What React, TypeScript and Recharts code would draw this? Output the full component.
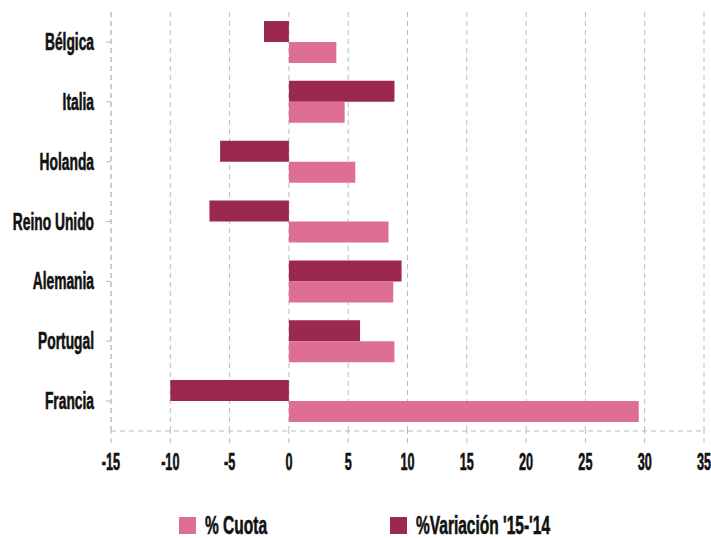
import React from "react";
import { BarChart, Bar, XAxis, YAxis, CartesianGrid, Legend } from "recharts";

const countries = ["Bélgica", "Italia", "Holanda", "Reino Unido", "Alemania", "Portugal", "Francia"];
const cuota = [4.0, 4.7, 5.6, 8.4, 8.8, 8.9, 29.5];
const variacion = [-2.1, 8.9, -5.8, -6.7, 9.5, 6.0, -10.0];
const xTicks = [-15, -10, -5, 0, 5, 10, 15, 20, 25, 30, 35];
const legendLabels = ["% Cuota", "%Variación '15-'14"];

const PINK = "#DD7092";
const DARK = "#9B294D";
const FONT = "'Liberation Sans', Arial, sans-serif";

const data = countries.map((c, i) => ({ name: c, cuota: cuota[i], variacion: variacion[i] }));

const YTick = (props: any) => {
  const { x, y, payload } = props;
  return (
    <text
      transform={`translate(${x - 10},${y + 8}) scale(0.6,1)`}
      x={0}
      y={0}
      textAnchor="end"
      fontFamily={FONT}
      fontWeight="bold"
      fontSize={23}
      fill="#111"
      stroke="#111"
      strokeWidth={0.6}
    >
      {payload.value}
    </text>
  );
};

const XTick = (props: any) => {
  const { x, y, payload } = props;
  return (
    <text
      transform={`translate(${x},${y + 25}) scale(0.55,1)`}
      x={0}
      y={0}
      textAnchor="middle"
      fontFamily={FONT}
      fontWeight="bold"
      fontSize={23}
      fill="#111"
      stroke="#111"
      strokeWidth={0.6}
    >
      {payload.value}
    </text>
  );
};

const LegendContent = () => {
  const items = [
    { label: legendLabels[0], color: PINK, left: 179 },
    { label: legendLabels[1], color: DARK, left: 390 },
  ];
  return (
    <div style={{ position: "relative", height: 57, width: 711 }}>
      {items.map((it) => (
        <div key={it.label} style={{ position: "absolute", left: it.left, top: 36, height: 17 }}>
          <div style={{ position: "absolute", left: 0, top: 0, width: 17, height: 17, background: it.color }} />
          <span
            style={{
              position: "absolute",
              left: 26,
              top: -6,
              whiteSpace: "nowrap",
              fontFamily: FONT,
              fontWeight: "bold",
              fontSize: 25,
              lineHeight: "28px",
              color: "#111",
              WebkitTextStroke: "0.6px #111",
              transform: "scaleX(0.62)",
              transformOrigin: "left center",
            }}
          >
            {it.label}
          </span>
        </div>
      ))}
    </div>
  );
};

export default function App() {
  return (
    <div style={{ position: "absolute", left: 0, top: 0, width: 711, height: 538, background: "#fff" }}>
      <BarChart
        width={711}
        height={538}
        data={data}
        layout="vertical"
        margin={{ top: 12, right: 7, left: 0, bottom: 0 }}
        barCategoryGap="15%"
        barGap={0}
      >
        <CartesianGrid stroke="#bbb" strokeDasharray="5 4" vertical={true} horizontal={false} />
        <XAxis
          type="number"
          domain={[-15, 35]}
          ticks={xTicks}
          interval={0}
          height={50}
          axisLine={{ stroke: "#bbb", strokeDasharray: "5 4" }}
          tickLine={{ stroke: "#bbb", strokeDasharray: "5 4" }}
          tickSize={12}
          tick={<XTick />}
        />
        <YAxis
          type="category"
          dataKey="name"
          width={111}
          axisLine={{ stroke: "#bbb", strokeDasharray: "5 4" }}
          tickLine={{ stroke: "#bbb" }}
          tickSize={5}
          tick={<YTick />}
        />
        <Legend verticalAlign="bottom" height={57} content={<LegendContent />} />
        <Bar dataKey="variacion" fill={DARK} isAnimationActive={false} />
        <Bar dataKey="cuota" fill={PINK} isAnimationActive={false} />
      </BarChart>
    </div>
  );
}
